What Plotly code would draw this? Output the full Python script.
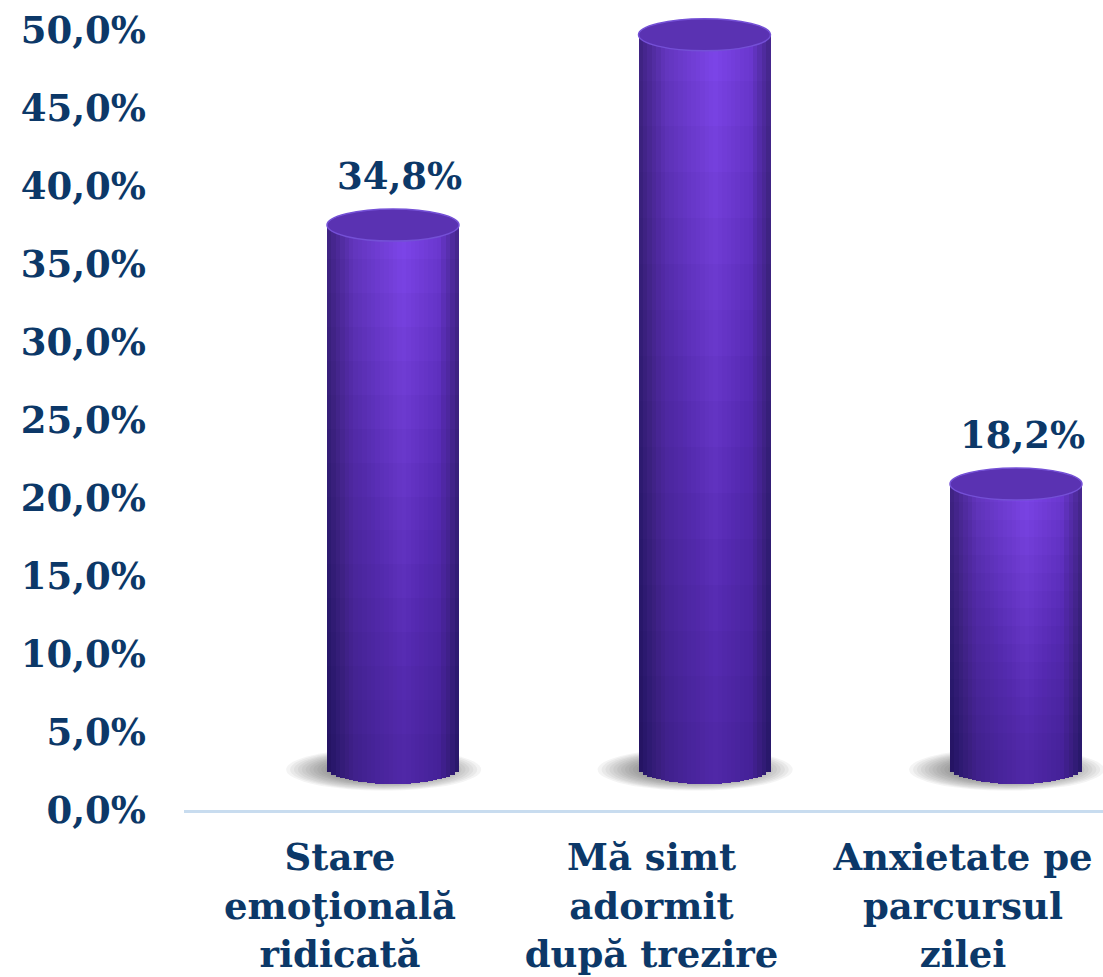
import plotly.graph_objects as go
import numpy as np

# ---- data ----
categories = ["Stare<br>emoţională<br>ridicată", "Mă simt<br>adormit<br>după trezire", "Anxietate pe<br>parcursul<br>zilei"]
values = [34.8, 47.0, 18.2]
value_labels = ["34,8%", None, "18,2%"]
tick_vals = [0, 5, 10, 15, 20, 25, 30, 35, 40, 45, 50]
tick_text = ["0,0%", "5,0%", "10,0%", "15,0%", "20,0%", "25,0%", "30,0%", "35,0%", "40,0%", "45,0%", "50,0%"]

# ---- style / geometry ----
W, H = 1103, 977
ML, MB = 184, 167
PX = 15.6                  # pixels per percent
X0_PX, STEP_PX = 340.0, 311.5
DEPTH_X = 53 / STEP_PX      # 3D shift of bars
DEPTH_Y = 42 / PX
BW = 132 / STEP_PX          # bar width
EB = 16 / PX                # ellipse half-height
NS = 30                     # shading slices
NV = 16                     # vertical shading levels
TXT = "#0c3868"
FONT = "DejaVu Serif"

xr = [(ML - X0_PX) / STEP_PX, (W - X0_PX) / STEP_PX]
ytop = (H - MB) / PX
x2r = [xr[0] - DEPTH_X, xr[1] - DEPTH_X]
y2r = [-DEPTH_Y, ytop - DEPTH_Y]

stops = [(-1.0, (60, 33, 126)), (-0.6, (98, 53, 188)), (0.15, (124, 68, 232)),
         (0.7, (106, 55, 206)), (1.0, (66, 37, 134))]


def shade(u):
    for (a, ca), (b, cb) in zip(stops[:-1], stops[1:]):
        if a <= u <= b:
            t = (u - a) / (b - a)
            c = [round(ca[i] + (cb[i] - ca[i]) * t) for i in range(3)]
            return f"rgb({c[0]},{c[1]},{c[2]})"
    return "rgb(60,33,126)"


xs = list(range(len(categories)))
fig = go.Figure()

# invisible trace to anchor the category axis
fig.add_trace(go.Scatter(x=xs, y=[0] * len(xs), mode="markers", marker=dict(opacity=0),
                         hoverinfo="skip", showlegend=False))

sw = BW / NS
for k in range(NS):
    u = ((k + 0.5) / NS) * 2 - 1
    d = EB * np.sqrt(max(0.0, 1 - u * u))
    off = -BW / 2 + k * sw
    fig.add_trace(go.Bar(x=xs, y=[v + d for v in values], base=[-d] * len(values),
                         width=sw * 1.05, offset=off, marker=dict(color=shade(u), line=dict(width=0)),
                         xaxis="x2", yaxis="y2", showlegend=False, hoverinfo="skip"))
    for j in range(1, NV):
        fig.add_trace(go.Bar(x=xs, y=[v * j / NV + d for v in values], base=[-d] * len(values),
                             width=sw * 1.05, offset=off,
                             marker=dict(color="rgba(20,0,50,0.022)", line=dict(width=0)),
                             xaxis="x2", yaxis="y2", showlegend=False, hoverinfo="skip"))

shapes = []
for i, v in enumerate(values):
    # soft shadow
    for r in range(12):
        s = 1.0 - r * 0.04
        hw = (195 / STEP_PX) / 2 * s
        hh = (42 / PX) / 2 * s
        shapes.append(dict(type="circle", xref="x2", yref="y2", layer="below",
                           x0=i - hw - 0.03, x1=i + hw - 0.03, y0=-hh - 0.1, y1=hh - 0.1,
                           fillcolor="rgba(50,50,50,0.055)", line=dict(width=0)))
    # top cap
    shapes.append(dict(type="circle", xref="x2", yref="y2", layer="above",
                       x0=i - BW / 2, x1=i + BW / 2, y0=v - EB, y1=v + EB,
                       fillcolor="#5a32b2", line=dict(color="#7450d6", width=1.5)))

annotations = []
for i, (v, lab) in enumerate(zip(values, value_labels)):
    if lab:
        annotations.append(dict(x=i, y=v, xref="x2", yref="y2", text=lab, showarrow=False,
                                yanchor="middle", yshift=49, xshift=6,
                                font=dict(family=FONT, size=37, color=TXT, weight="bold")))

fig.update_layout(
    width=W, height=H, autosize=False,
    margin=dict(l=ML, r=0, t=0, b=MB, pad=0),
    paper_bgcolor="white", plot_bgcolor="white",
    barmode="overlay", bargap=0,
    shapes=shapes, annotations=annotations, showlegend=False,
    xaxis=dict(range=xr, tickmode="array", tickvals=xs, ticktext=categories, automargin=False,
               showline=True, linecolor="#c8dcef", linewidth=3, showgrid=False, zeroline=False,
               ticks="", ticklabelstandoff=13,
               tickfont=dict(family=FONT, size=37, color=TXT, weight="bold"), fixedrange=True),
    yaxis=dict(range=[0, ytop], tickmode="array", tickvals=tick_vals, ticktext=tick_text, automargin=False,
               showline=False, showgrid=False, zeroline=False, ticks="", ticklabelstandoff=37,
               tickfont=dict(family=FONT, size=37, color=TXT, weight="bold"), fixedrange=True),
    xaxis2=dict(range=x2r, overlaying="x", visible=False, fixedrange=True, automargin=False),
    yaxis2=dict(range=y2r, overlaying="y", visible=False, fixedrange=True, automargin=False),
)

fig.write_html("out.html", config={"displayModeBar": False},
               post_script="document.body.style.margin='0';document.body.style.overflow='hidden';")
